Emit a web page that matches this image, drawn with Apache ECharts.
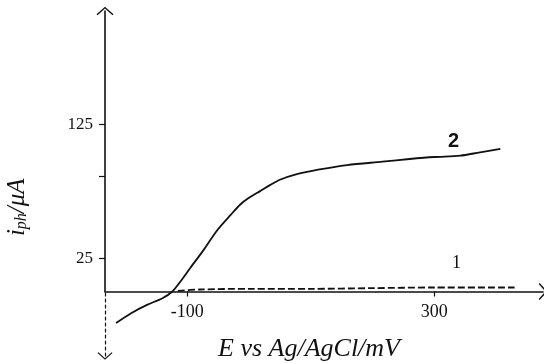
<!DOCTYPE html>
<html>
<head>
<meta charset="utf-8">
<script src="https://cdn.jsdelivr.net/npm/echarts@6/dist/echarts.min.js"></script>
<style>html,body{margin:0;padding:0;background:#fff}#c{width:544px;height:364px}</style>
</head>
<body>
<div id="c"></div>
<script>
// Axis ranges (main frame starts at i = 0; the y axis continues below as a dashed arrow)
const xMin = -233, xMax = 476;
const yMin = 0, yMax = 209.6;
const yArrowLow = -48;
const xTicks = [-100, 300];
const yTickMarks = [25, 86, 125];
const yTickLabels = [25, 125];

// Curve 2 (solid)
const e2 = [-215, -190, -165, -140, -124, -110, -95, -75, -51, -30, -14, 0, 18, 34, 50, 72, 112, 159, 216, 260, 300, 342, 374, 407];
const i2 = [-23.5, -16, -10, -5, 0, 8, 17.6, 30, 46, 57, 65, 70, 75, 79.5, 83.5, 87, 91, 94.5, 97, 99, 100.5, 101.5, 104, 106.5];
// Curve 1 (dashed)
const e1 = [-115, -80, 0, 100, 200, 300, 430];
const i1 = [0.5, 1.5, 2, 2, 2.5, 3, 3];

const serif = "'Liberation Serif','DejaVu Serif',serif";
const chevron = 'path://M0,0L10,9L8.8,10.2L0,2.2L-8.8,10.2L-10,9Z';
const ink = '#111';

const chart = echarts.init(document.getElementById('c'));
chart.setOption({
  animation: false,
  backgroundColor: '#fff',
  grid: [
    { left: 105, right: 1, top: 11, bottom: 72.5, containLabel: false, outerBoundsMode: 'none' },
    { left: 105, right: 1, top: 291.5, bottom: 8, containLabel: false, outerBoundsMode: 'none' }
  ],
  xAxis: [{
    type: 'value', min: xMin, max: xMax, gridIndex: 0,
    axisLine: { show: true, onZero: false, symbol: ['none', chevron], symbolSize: [17, 10], lineStyle: { color: ink, width: 1.6 } },
    axisTick: { show: true, customValues: xTicks, length: 5, inside: false, lineStyle: { color: ink, width: 1.2 } },
    axisLabel: { show: true, customValues: xTicks, margin: 12, fontFamily: serif, fontSize: 18, color: ink },
    splitLine: { show: false },
    name: 'E vs Ag/AgCl/mV', nameLocation: 'middle', nameGap: 45,
    nameTextStyle: { fontFamily: serif, fontStyle: 'italic', fontSize: 26, color: ink, padding: [0, 30, 0, 0] }
  }, {
    type: 'value', min: xMin, max: xMax, gridIndex: 1, show: false
  }],
  yAxis: [{
    type: 'value', min: yMin, max: yMax, gridIndex: 0,
    axisLine: { show: true, onZero: false, symbol: ['none', chevron], symbolSize: [17, 9], lineStyle: { color: ink, width: 1.6 } },
    axisTick: { show: true, customValues: yTickMarks, length: 6, inside: false, lineStyle: { color: ink, width: 1.2 } },
    axisLabel: { show: true, customValues: yTickLabels, margin: 12, fontFamily: serif, fontSize: 17, color: ink },
    splitLine: { show: false },
    name: '{i|i}{s|ph}{t|/μA}', nameLocation: 'middle', nameRotate: 90, nameGap: 75,
    nameTextStyle: {
      padding: [0, 112, 0, 0],
      rich: {
        i: { fontFamily: serif, fontStyle: 'italic', fontSize: 25, color: ink },
        s: { fontFamily: serif, fontStyle: 'italic', fontSize: 16, color: ink, verticalAlign: 'bottom', padding: [10, 0, 0, 0] },
        t: { fontFamily: serif, fontStyle: 'italic', fontSize: 25, color: ink }
      }
    }
  }, {
    type: 'value', min: yArrowLow, max: 0, gridIndex: 1,
    axisLine: { show: true, onZero: false, symbol: [chevron, 'none'], symbolSize: [15, 9], lineStyle: { color: ink, width: 1.2, type: [3, 3] } },
    axisTick: { show: false }, axisLabel: { show: false }, splitLine: { show: false }
  }],
  series: [
    {
      type: 'line', name: '2', data: e2.map((e, k) => [e, i2[k]]), clip: false,
      xAxisIndex: 0, yAxisIndex: 0,
      showSymbol: false, smooth: 0.3, lineStyle: { color: ink, width: 1.8 }
    },
    {
      type: 'line', name: '1', data: e1.map((e, k) => [e, i1[k]]), clip: false,
      xAxisIndex: 0, yAxisIndex: 0,
      showSymbol: false, smooth: 0.3, lineStyle: { color: ink, width: 1.8, type: [7, 3] }
    }
  ],
  graphic: [
    { type: 'text', left: 448, top: 131, style: { text: '2', font: "bold 20px 'Liberation Sans', sans-serif", fill: ink } },
    { type: 'text', left: 452, top: 254, style: { text: '1', font: "18px 'Liberation Serif', serif", fill: ink } }
  ]
});
</script>
</body>
</html>
